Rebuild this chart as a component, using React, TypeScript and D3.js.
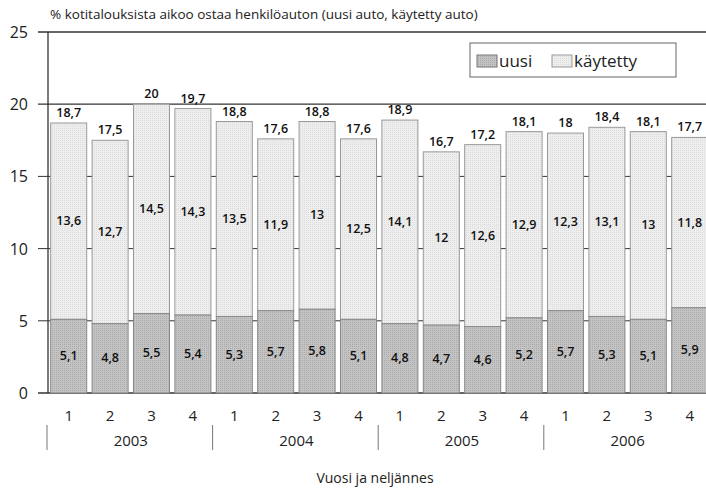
import { scaleBand, scaleLinear } from "d3";

const quarters = ["1", "2", "3", "4", "1", "2", "3", "4", "1", "2", "3", "4", "1", "2", "3", "4"];
const years = ["2003", "2004", "2005", "2006"];
const uusi = [5.1, 4.8, 5.5, 5.4, 5.3, 5.7, 5.8, 5.1, 4.8, 4.7, 4.6, 5.2, 5.7, 5.3, 5.1, 5.9];
const kaytetty = [13.6, 12.7, 14.5, 14.3, 13.5, 11.9, 13, 12.5, 14.1, 12, 12.6, 12.9, 12.3, 13.1, 13, 11.8];
const totals = [18.7, 17.5, 20, 19.7, 18.8, 17.6, 18.8, 17.6, 18.9, 16.7, 17.2, 18.1, 18, 18.4, 18.1, 17.7];
const yTicks = [0, 5, 10, 15, 20, 25];

const width = 706;
const height = 488;
const left = 48;
const top = 32;
const bottom = 393;
const font = "'Open Sans', sans-serif";

const fmt = (v: number) => String(v).replace(".", ",");

function App() {
  const x = scaleBand<number>()
    .domain(quarters.map((_, i) => i))
    .range([left, left + 16 * 41.4])
    .paddingInner(0.13)
    .paddingOuter(0.065);
  const y = scaleLinear().domain([0, 25]).range([bottom, top]);
  const step = x.step();

  return (
    <svg
      width={width}
      height={height}
      style={{ position: "absolute", left: 0, top: 0, background: "#fff" }}
      fontFamily={font}
    >
      <defs>
        <pattern id="dark" width="2" height="2" patternUnits="userSpaceOnUse">
          <rect width="2" height="2" fill="#c4c4c4" />
          <rect width="1" height="1" fill="#a9a9a9" />
        </pattern>
        <pattern id="light" width="2" height="2" patternUnits="userSpaceOnUse">
          <rect width="2" height="2" fill="#eeeeee" />
          <rect width="1" height="1" fill="#dcdcdc" />
        </pattern>
      </defs>

      <text x={50} y={19} fontSize={13.5} fill="#222">
        % kotitalouksista aikoo ostaa henkilöauton (uusi auto, käytetty auto)
      </text>

      {yTicks.map((t) => (
        <g key={t}>
          <line x1={38} x2={width} y1={y(t)} y2={y(t)} stroke="#333" strokeWidth={t === 0 || t === 25 || t === 20 ? 1.3 : 1} />
          <text x={28} y={y(t) + 6} fontSize={16} textAnchor="end" fill="#222">
            {t}
          </text>
        </g>
      ))}
      <line x1={left} x2={left} y1={top} y2={bottom} stroke="#333" strokeWidth={1.3} />

      {quarters.map((q, i) => {
        const bx = x(i) as number;
        const bw = x.bandwidth();
        const cx = bx + bw / 2;
        return (
          <g key={i}>
            <rect
              x={bx}
              y={y(totals[i])}
              width={bw}
              height={y(uusi[i]) - y(totals[i])}
              fill="url(#light)"
              stroke="#999"
              strokeWidth={1}
            />
            <rect
              x={bx}
              y={y(uusi[i])}
              width={bw}
              height={y(0) - y(uusi[i])}
              fill="url(#dark)"
              stroke="#888"
              strokeWidth={1}
            />
            <text x={cx} y={y(totals[i]) - 6} fontSize={12.5} fontWeight={600} textAnchor="middle" fill="#111">
              {fmt(totals[i])}
            </text>
            <text
              x={cx}
              y={y(uusi[i] + kaytetty[i] / 2) + 4}
              fontSize={12.5}
              fontWeight={600}
              textAnchor="middle"
              fill="#111"
            >
              {fmt(kaytetty[i])}
            </text>
            <text x={cx} y={y(uusi[i] / 2) + 4} fontSize={12.5} fontWeight={600} textAnchor="middle" fill="#111">
              {fmt(uusi[i])}
            </text>
            <text x={cx} y={421} fontSize={15} textAnchor="middle" fill="#222">
              {q}
            </text>
          </g>
        );
      })}

      {years.map((yr, j) => {
        const x0 = left + j * 4 * step;
        return (
          <g key={yr}>
            <line x1={x0 - 1} x2={x0 - 1} y1={425} y2={450} stroke="#777" strokeWidth={1} />
            <text x={x0 + 2 * step} y={446} fontSize={15} textAnchor="middle" fill="#222">
              {yr}
            </text>
          </g>
        );
      })}

      <text x={375} y={483} fontSize={14} textAnchor="middle" fill="#222">
        Vuosi ja neljännes
      </text>

      <g>
        <rect x={470} y={43} width={206} height={34} fill="#fff" stroke="#666" strokeWidth={1} />
        <rect x={477} y={55} width={20} height={12} fill="url(#dark)" stroke="#777" />
        <text x={499} y={67} fontSize={17} fill="#222">
          uusi
        </text>
        <rect x={552} y={55} width={20} height={12} fill="url(#light)" stroke="#999" />
        <text x={574} y={67} fontSize={17} fill="#222">
          käytetty
        </text>
      </g>
    </svg>
  );
}

export default App;
